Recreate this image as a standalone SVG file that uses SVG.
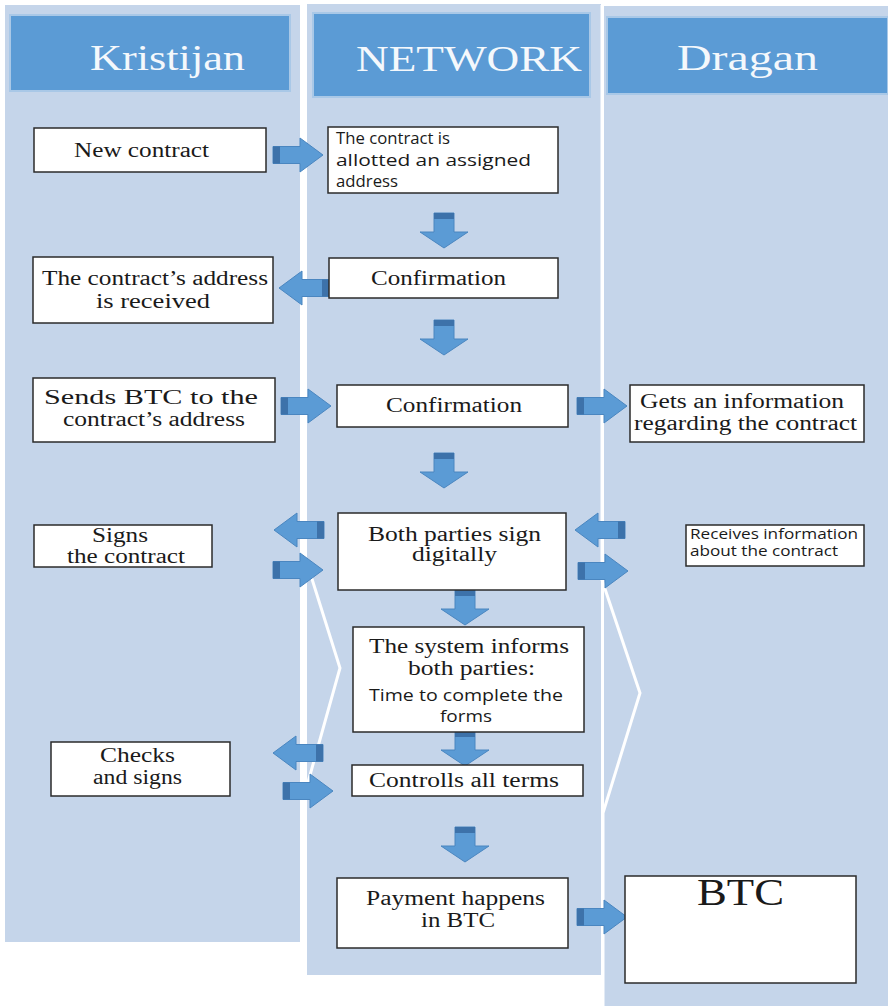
<svg xmlns="http://www.w3.org/2000/svg" xmlns:xlink="http://www.w3.org/1999/xlink" width="888" height="1006" viewBox="0 0 888 1006">
<style>
.lane{fill:#c5d5ea}
.hdr{fill:#5b9bd5;stroke:#a9c8e7;stroke-width:2}
.ht{font-family:"Liberation Serif",serif;font-size:36px;fill:#f4f8fc}
.box{fill:#fff;stroke:#2b2b2b;stroke-width:1.5}
.s{font-family:"Liberation Serif",serif;font-size:20px;fill:#1a1a1a}
.a{font-family:"Open Sans",sans-serif;font-size:17px;fill:#1a1a1a}
.a2{font-family:"Open Sans",sans-serif;font-size:14px;fill:#1a1a1a}
.big{font-family:"Liberation Serif",serif;font-size:37px;fill:#1a1a1a}
.arw{fill:#5b9bd5;stroke:#4a86c0;stroke-width:1}
.arwd{fill:#3d72aa}
.sep{fill:none;stroke:#ffffff;stroke-width:3}
</style>
<defs>
<g id="arR"><path class="arw" d="M0,-8.5H27V-17L50,0L27,17V8.5H0Z"/><rect class="arwd" x="0" y="-8.5" width="7" height="17"/></g>
<g id="arD"><path class="arw" d="M-10,0H10V19H24L0,35L-24,19H-10Z"/><rect class="arwd" x="-10" y="0" width="20" height="6"/></g>
</defs>
<rect width="888" height="1006" fill="#ffffff"/>
<g id="lanes">
<rect class="lane" x="5" y="5" width="295" height="937"/>
<rect class="lane" x="307" y="4" width="294" height="971"/>
<rect class="lane" x="604" y="6" width="284" height="1000"/>
<polyline class="sep" points="303.5,5 303.5,552 340,668 305,793 305,942"/>
<polyline class="sep" points="602,5 602,580 640,693 603,813 603,1006"/>
</g>
<g id="header-kristijan"><rect class="hdr" x="10" y="15" width="280" height="76"/><text class="ht" x="90" y="70" textLength="155" lengthAdjust="spacingAndGlyphs">Kristijan</text></g>
<g id="header-network"><rect class="hdr" x="313" y="13" width="277" height="84"/><text class="ht" x="356" y="71" textLength="226" lengthAdjust="spacingAndGlyphs">NETWORK</text></g>
<g id="header-dragan"><rect class="hdr" x="607" y="17" width="281" height="77"/><text class="ht" x="677" y="70" textLength="141" lengthAdjust="spacingAndGlyphs">Dragan</text></g>
<g id="connectors">
<use xlink:href="#arR" transform="translate(273,155)"/>
<use xlink:href="#arR" transform="translate(281,406)"/>
<use xlink:href="#arR" transform="translate(577,406)"/>
<use xlink:href="#arR" transform="translate(273,570)"/>
<use xlink:href="#arR" transform="translate(578,571)"/>
<use xlink:href="#arR" transform="translate(283,791)"/>
<use xlink:href="#arR" transform="translate(577,917)"/>
<use xlink:href="#arR" transform="translate(329,288) scale(-1,1)"/>
<use xlink:href="#arR" transform="translate(324,530) scale(-1,1)"/>
<use xlink:href="#arR" transform="translate(625,530) scale(-1,1)"/>
<use xlink:href="#arR" transform="translate(323,753) scale(-1,1)"/>
<use xlink:href="#arD" transform="translate(444,213)"/>
<use xlink:href="#arD" transform="translate(444,320)"/>
<use xlink:href="#arD" transform="translate(444,453)"/>
<use xlink:href="#arD" transform="translate(465,590)"/>
<use xlink:href="#arD" transform="translate(465,731)"/>
<use xlink:href="#arD" transform="translate(465,827)"/>
</g>
<g id="new-contract"><rect class="box" x="34" y="128" width="232" height="44"/><text class="s" x="74" y="157" textLength="135" lengthAdjust="spacingAndGlyphs">New contract</text></g>
<g id="allotted"><rect class="box" x="328" y="127" width="230" height="66"/><text class="a" x="336" y="144" textLength="114" lengthAdjust="spacingAndGlyphs">The contract is</text><text class="a" x="336" y="166" textLength="195" lengthAdjust="spacingAndGlyphs">allotted an assigned</text><text class="a" x="336" y="187" textLength="62" lengthAdjust="spacingAndGlyphs">address</text></g>
<g id="confirmation-1"><rect class="box" x="329" y="258" width="229" height="40"/><text class="s" x="371" y="285" textLength="135" lengthAdjust="spacingAndGlyphs">Confirmation</text></g>
<g id="address-received"><rect class="box" x="33" y="257" width="240" height="66"/><text class="s" x="42" y="285" textLength="226" lengthAdjust="spacingAndGlyphs">The contract’s address</text><text class="s" x="96" y="308" textLength="114" lengthAdjust="spacingAndGlyphs">is received</text></g>
<g id="sends-btc"><rect class="box" x="33" y="378" width="242" height="64"/><text class="s" x="44" y="404" textLength="214" lengthAdjust="spacingAndGlyphs">Sends BTC to the</text><text class="s" x="63" y="426" textLength="182" lengthAdjust="spacingAndGlyphs">contract’s address</text></g>
<g id="confirmation-2"><rect class="box" x="337" y="385" width="231" height="42"/><text class="s" x="386" y="412" textLength="136" lengthAdjust="spacingAndGlyphs">Confirmation</text></g>
<g id="gets-information"><rect class="box" x="630" y="385" width="234" height="57"/><text class="s" x="640" y="408" textLength="204" lengthAdjust="spacingAndGlyphs">Gets an information</text><text class="s" x="634" y="430" textLength="223" lengthAdjust="spacingAndGlyphs">regarding the contract</text></g>
<g id="signs-contract"><rect class="box" x="34" y="525" width="178" height="42"/><text class="s" x="92" y="542" textLength="56" lengthAdjust="spacingAndGlyphs">Signs</text><text class="s" x="67" y="563" textLength="118" lengthAdjust="spacingAndGlyphs">the contract</text></g>
<g id="both-sign"><rect class="box" x="338" y="513" width="228" height="77"/><text class="s" x="368" y="541" textLength="173" lengthAdjust="spacingAndGlyphs">Both parties sign</text><text class="s" x="412" y="561" textLength="85" lengthAdjust="spacingAndGlyphs">digitally</text></g>
<g id="receives-information"><rect class="box" x="686" y="525" width="178" height="41"/><text class="a2" x="690" y="539" textLength="168" lengthAdjust="spacingAndGlyphs">Receives information</text><text class="a2" x="690" y="556" textLength="148" lengthAdjust="spacingAndGlyphs">about the contract</text></g>
<g id="system-informs"><rect class="box" x="353" y="627" width="231" height="105"/><text class="s" x="369" y="653" textLength="200" lengthAdjust="spacingAndGlyphs">The system informs</text><text class="s" x="408" y="675" textLength="127" lengthAdjust="spacingAndGlyphs">both parties:</text><text class="a" x="369" y="701" textLength="194" lengthAdjust="spacingAndGlyphs">Time to complete the</text><text class="a" x="440" y="722" textLength="52" lengthAdjust="spacingAndGlyphs">forms</text></g>
<g id="checks-signs"><rect class="box" x="51" y="742" width="179" height="54"/><text class="s" x="100" y="762" textLength="75" lengthAdjust="spacingAndGlyphs">Checks</text><text class="s" x="93" y="784" textLength="89" lengthAdjust="spacingAndGlyphs">and signs</text></g>
<g id="controlls-terms"><rect class="box" x="352" y="765" width="231" height="31"/><text class="s" x="369" y="787" textLength="190" lengthAdjust="spacingAndGlyphs">Controlls all terms</text></g>
<g id="payment"><rect class="box" x="337" y="878" width="231" height="70"/><text class="s" x="366" y="905" textLength="179" lengthAdjust="spacingAndGlyphs">Payment happens</text><text class="s" x="421" y="927" textLength="74" lengthAdjust="spacingAndGlyphs">in BTC</text></g>
<g id="btc"><rect class="box" x="625" y="876" width="231" height="107"/><text class="big" x="697" y="905" textLength="87" lengthAdjust="spacingAndGlyphs">BTC</text></g>
</svg>
